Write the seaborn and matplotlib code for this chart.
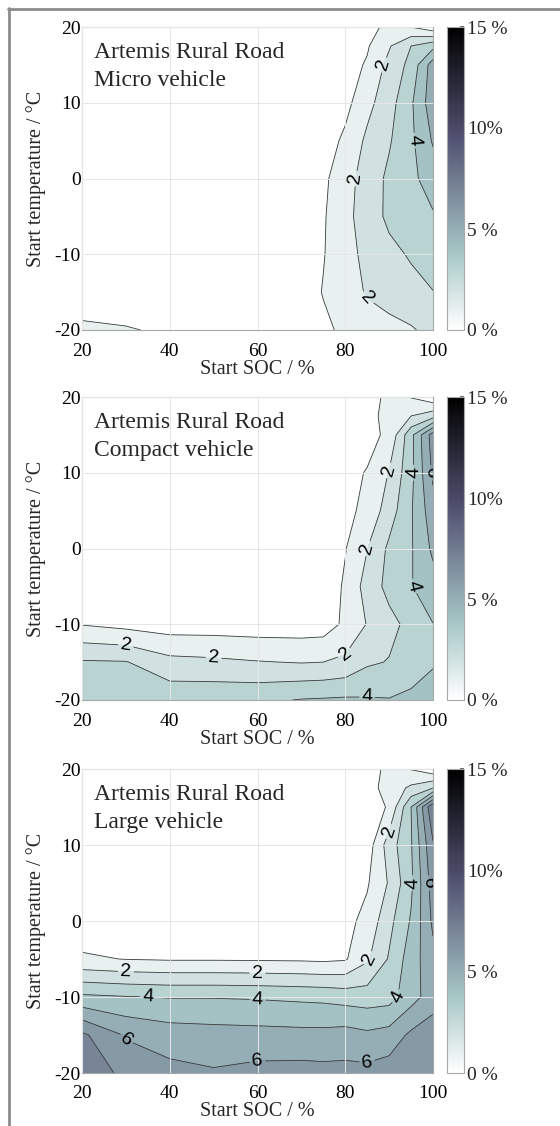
import numpy as np
import matplotlib
matplotlib.use("Agg")
import matplotlib.pyplot as plt
import seaborn as sns
from matplotlib.lines import Line2D
from matplotlib.colors import Normalize
from matplotlib.cm import ScalarMappable

# ---- data (share in %) ----
soc = [20, 30, 40, 50, 60, 70, 75, 80, 85, 90, 95, 100]
temp = [-20, -15, -10, -5, 0, 5, 10, 15, 17.5, 20]

micro = [
    [1.30, 1.10, 0.80, 0.60, 0.50, 0.60, 0.80, 1.20, 1.50, 1.70, 1.90, 2.30],
    [0.10, 0.15, 0.20, 0.30, 0.40, 0.50, 1.05, 1.50, 2.10, 2.40, 2.70, 2.98],
    [0.10, 0.10, 0.15, 0.20, 0.30, 0.40, 0.95, 1.60, 2.30, 2.75, 3.10, 3.40],
    [0.05, 0.10, 0.10, 0.15, 0.25, 0.40, 0.90, 1.70, 2.50, 3.20, 3.60, 3.90],
    [0.05, 0.05, 0.10, 0.10, 0.20, 0.30, 0.80, 1.60, 2.45, 3.20, 3.75, 4.50],
    [0.05, 0.05, 0.05, 0.10, 0.15, 0.25, 0.50, 1.20, 2.20, 2.90, 3.80, 5.10],
    [0.05, 0.05, 0.05, 0.05, 0.10, 0.20, 0.30, 0.70, 1.70, 2.60, 3.85, 5.60],
    [0.00, 0.05, 0.05, 0.05, 0.05, 0.10, 0.20, 0.60, 1.10, 2.30, 3.30, 5.50],
    [0.00, 0.00, 0.05, 0.05, 0.05, 0.10, 0.15, 0.40, 0.90, 1.90, 3.00, 3.70],
    [0.00, 0.00, 0.00, 0.05, 0.05, 0.05, 0.10, 0.30, 0.60, 1.30, 0.98, 0.30],
]

compact = [
    [3.50, 3.50, 3.70, 3.75, 3.80, 4.05, 4.10, 4.15, 4.10, 4.05, 4.30, 4.70],
    [3.10, 3.05, 2.30, 2.20, 2.05, 1.95, 2.00, 2.20, 2.85, 3.05, 3.30, 3.85],
    [0.95, 0.70, 0.50, 0.50, 0.45, 0.45, 0.50, 1.20, 2.05, 2.70, 3.30, 3.98],
    [0.20, 0.20, 0.15, 0.15, 0.15, 0.20, 0.30, 1.15, 2.40, 3.30, 3.95, 4.60],
    [0.10, 0.10, 0.10, 0.10, 0.15, 0.20, 0.50, 0.95, 1.98, 3.20, 3.90, 5.20],
    [0.05, 0.05, 0.05, 0.10, 0.10, 0.15, 0.40, 0.75, 1.25, 2.50, 3.90, 5.60],
    [0.05, 0.05, 0.05, 0.05, 0.10, 0.15, 0.30, 0.75, 1.05, 2.05, 3.70, 6.20],
    [0.00, 0.05, 0.05, 0.05, 0.05, 0.10, 0.20, 0.40, 0.70, 1.20, 3.70, 6.50],
    [0.00, 0.00, 0.05, 0.05, 0.05, 0.10, 0.15, 0.30, 0.70, 1.30, 2.00, 2.60],
    [0.00, 0.00, 0.00, 0.05, 0.05, 0.05, 0.10, 0.20, 0.50, 1.30, 0.95, 0.30],
]

large = [
    [7.80, 6.70, 6.30, 6.10, 6.30, 6.35, 6.30, 6.30, 6.30, 6.50, 6.70, 6.80],
    [7.20, 5.90, 5.50, 5.40, 5.35, 5.30, 5.30, 5.40, 5.20, 5.40, 6.20, 6.60],
    [4.20, 4.05, 3.95, 3.95, 3.90, 3.80, 3.75, 3.60, 3.50, 3.60, 4.60, 5.50],
    [1.15, 0.97, 0.90, 0.90, 0.88, 0.85, 0.80, 0.90, 1.85, 3.10, 4.50, 5.70],
    [0.30, 0.25, 0.25, 0.20, 0.20, 0.25, 0.40, 0.70, 1.30, 2.70, 4.10, 6.20],
    [0.10, 0.10, 0.10, 0.10, 0.15, 0.20, 0.30, 0.50, 0.90, 2.10, 3.80, 6.50],
    [0.05, 0.05, 0.05, 0.10, 0.10, 0.15, 0.25, 0.35, 0.45, 2.50, 3.90, 6.90],
    [0.00, 0.05, 0.05, 0.05, 0.05, 0.10, 0.20, 0.30, 0.50, 1.10, 4.00, 7.90],
    [0.00, 0.00, 0.05, 0.05, 0.05, 0.10, 0.15, 0.30, 0.60, 1.40, 2.20, 3.00],
    [0.00, 0.00, 0.00, 0.05, 0.05, 0.05, 0.10, 0.20, 0.50, 1.30, 0.95, 0.30],
]

cycle_name = "Artemis Rural Road"
vehicles = ["Micro vehicle", "Compact vehicle", "Large vehicle"]
x_ticks = [20, 40, 60, 80, 100]
y_ticks = [-20, -10, 0, 10, 20]
cbar_ticks = [0, 5, 10, 15]
cbar_labels = ["0 %", "5 %", "10%", "15 %"]

# ---- style ----
sns.set_theme(style="whitegrid")
plt.rcParams["font.family"] = ["Liberation Serif", "DejaVu Serif"]
plt.rcParams["axes.unicode_minus"] = False

W, H = 560, 1126
fig = plt.figure(figsize=(W / 100, H / 100), dpi=100)

cmap = sns.color_palette("bone_r", as_cmap=True)
norm = Normalize(0, 15)
levels = np.arange(0, 16)
odd_levels = levels[1::2]    # plain lines
even_levels = levels[2::2]   # labelled lines
# MATLAB-like fill: each band takes the colour of its lower level
band_colors = [cmap(norm(l)) for l in levels[:-1]]

panels_px = [(27, 330), (397, 700), (769, 1073)]


def label_spots(cs, ax, spacing=120):
    """Spread label positions along each contour line, like MATLAB."""
    spots = []
    for path in cs.get_paths():
        if len(path.vertices) < 2:
            continue
        for seg in path.to_polygons(closed_only=False):
            if len(seg) < 2:
                continue
            disp = ax.transData.transform(seg)
            dist = np.r_[0, np.cumsum(np.hypot(*np.diff(disp, axis=0).T))]
            total = dist[-1]
            if total < 35:
                continue
            n = max(1, int(round(total / spacing)))
            for k in range(n):
                i = np.searchsorted(dist, total * (k + 0.5) / n)
                spots.append(tuple(seg[min(i, len(seg) - 1)]))
    return spots


for (top, bottom), name, z in zip(panels_px, vehicles, [micro, compact, large]):
    ax = fig.add_axes([82 / W, 1 - bottom / H, 351 / W, (bottom - top) / H])
    ax.set_xlim(20, 100)
    ax.set_ylim(-20, 20)
    Z = np.array(z)
    ax.contourf(soc, temp, Z, levels=levels, colors=band_colors)
    ax.contour(soc, temp, Z, levels=odd_levels, colors="#3c3c3c",
               linewidths=0.6)
    cs = ax.contour(soc, temp, Z, levels=even_levels, colors="#3c3c3c",
                    linewidths=0.6)
    spots = label_spots(cs, ax)
    if spots:
        texts = ax.clabel(cs, fmt="%d", fontsize=14, inline_spacing=3,
                          colors="black", manual=spots)
        for t in texts:
            t.set_family(["Liberation Sans", "DejaVu Sans"])

    ax.set_xlim(20, 100)
    ax.set_ylim(-20, 20)
    ax.set_xticks(x_ticks)
    ax.set_yticks(y_ticks)
    ax.set_axisbelow(False)
    ax.grid(True, color="#e6e6e6", linewidth=0.7)
    for sp in ax.spines.values():
        sp.set_color("#a8a8a8")
        sp.set_linewidth(0.8)
    ax.tick_params(labelsize=14, length=0, pad=1, colors="black")
    ax.tick_params(axis="x", pad=9)
    ax.set_xlabel("Start SOC / %", fontsize=14.5, labelpad=0)
    ax.set_ylabel("Start temperature / \u00b0C", fontsize=14.5, labelpad=6)
    ax.text(0.033, 0.95, cycle_name + "\n" + name, transform=ax.transAxes,
            ha="left", va="top", fontsize=17, linespacing=1.4)

    cax = fig.add_axes([447 / W, 1 - bottom / H, 17 / W, (bottom - top) / H])
    cb = fig.colorbar(ScalarMappable(norm=norm, cmap=cmap), cax=cax,
                      ticks=cbar_ticks)
    cb.set_ticklabels(cbar_labels)
    cb.outline.set_edgecolor("#a8a8a8")
    cb.outline.set_linewidth(0.8)
    cax.tick_params(labelsize=14, length=3, direction="in", pad=2,
                    color="#555555")

# grey frame on the top and left of the figure
fig.add_artist(Line2D([8 / W, 1], [1 - 8.5 / H, 1 - 8.5 / H],
                      transform=fig.transFigure, color="#8c8c8c", lw=2))
fig.add_artist(Line2D([8.5 / W, 8.5 / W], [0, 1 - 8 / H],
                      transform=fig.transFigure, color="#8c8c8c", lw=2))

fig.savefig("out.png", dpi=100)
